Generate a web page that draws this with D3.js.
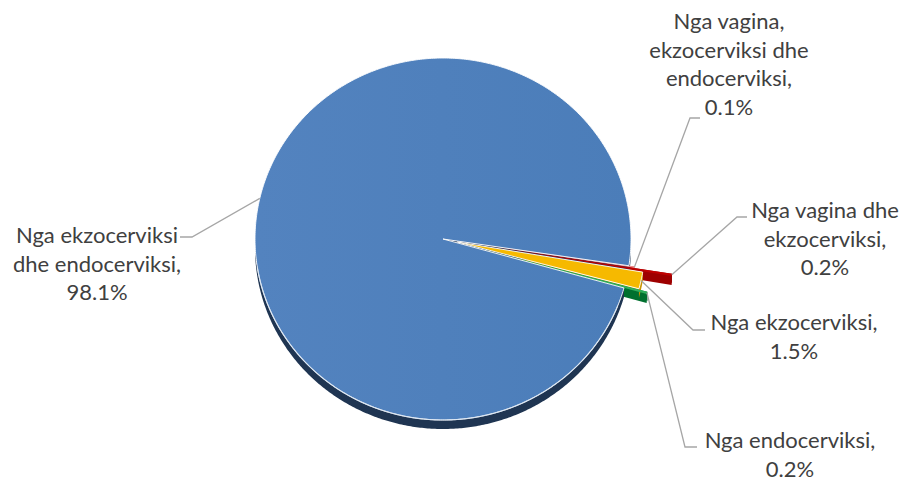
<!DOCTYPE html>
<html>
<head>
<meta charset="utf-8">
<script src="https://cdn.jsdelivr.net/npm/d3@7"></script>
<style>
  html, body { margin: 0; padding: 0; background: #ffffff; }
  svg { display: block; }
  .lbl { font-family: Lato, "Open Sans", sans-serif; font-size: 22px; fill: #404040; }
</style>
</head>
<body>
<svg id="chart" width="903" height="481"></svg>
<script>
// Categories and their shares (%), drawn clockwise from the first slice angle
const categories = [
  "Nga vagina, ekzocerviksi dhe endocerviksi",
  "Nga vagina dhe ekzocerviksi",
  "Nga ekzocerviksi",
  "Nga endocerviksi",
  "Nga ekzocerviksi dhe endocerviksi"
];
const shares = [0.1, 0.2, 1.5, 0.2, 98.1];

// Wrapped category text used in the data labels
const labelNames = [
  ["Nga vagina,", "ekzocerviksi dhe", "endocerviksi,"],
  ["Nga vagina dhe", "ekzocerviksi,"],
  ["Nga ekzocerviksi,"],
  ["Nga endocerviksi,"],
  ["Nga ekzocerviksi", "dhe endocerviksi,"]
];

// Slice styling
const topColors = ["#f28b8b", "#c00000", "#f6b900", "#2fae5c", "#4f81bd"];
const sideColors = ["#c45a5a", "#9e0000", "#c99400", "#00702f", "#1f3552"];
const explode = [0.03, 0.233, 0.078, 0.125, 0];

// Label layout: text centre x, first baseline y, leader elbow and leader end
const labelLayout = [
  { x: 729, y: 29, elbow: [690, 118], end: [700, 118] },
  { x: 825, y: 218, elbow: [737, 217], end: [747, 217] },
  { x: 794, y: 330, elbow: [693, 330], end: [705, 330] },
  { x: 790, y: 448, elbow: [685, 447], end: [697, 447] },
  { x: 97, y: 243, elbow: [192, 237], end: [180, 237] }
];
const lineGap = 28.5;
// Where the leader of the large slice touches its rim (fraction of a turn)
const bigLeaderTurn = 0.786;

// Pie geometry (tilted disc with thickness)
const cx = 443, cy = 239, rx = 188, ry = 181, depth = 9;
const firstAngle = 98.5 * Math.PI / 180;

const svg = d3.select("#chart");
const defs = svg.append("defs");
const grad = defs.append("linearGradient").attr("id", "blueTop")
  .attr("x1", "0%").attr("x2", "100%").attr("y1", "0%").attr("y2", "0%");
grad.append("stop").attr("offset", "0%").attr("stop-color", "#5383bf");
grad.append("stop").attr("offset", "100%").attr("stop-color", "#4b7db9");

const pie = d3.pie().sort(null).value(d => d)
  .startAngle(firstAngle).endAngle(firstAngle + 2 * Math.PI);
const arcs = pie(shares);

const xs = d3.scaleLinear().domain([-1, 1]).range([cx - rx, cx + rx]);
const ys = d3.scaleLinear().domain([-1, 1]).range([cy - ry, cy + ry]);
const proj = (u, v, z) => [xs(u), ys(v) + z * depth];
const line = d3.line();
const closed = pts => line(pts) + "Z";

const slices = arcs.map((a, i) => {
  const mid = (a.startAngle + a.endAngle) / 2;
  const ou = explode[i] * Math.sin(mid), ov = -explode[i] * Math.cos(mid);
  const pt = (r, ang, z) => proj(ou + r * Math.sin(ang), ov - r * Math.cos(ang), z);
  const arcPts = (a0, a1, z) => {
    const n = Math.max(2, Math.ceil((a1 - a0) / 0.01));
    return d3.range(n + 1).map(k => pt(1, a0 + (a1 - a0) * k / n, z));
  };
  return { a, i, mid, pt, arcPts };
});

const gSides = svg.append("g");
const gWalls = svg.append("g");
const gTops = svg.append("g");

// Radial side faces
slices.forEach(s => {
  [s.a.startAngle, s.a.endAngle].forEach(ang => {
    gSides.append("path")
      .attr("d", closed([s.pt(0, ang, 0), s.pt(1, ang, 0), s.pt(1, ang, 1), s.pt(0, ang, 1)]))
      .attr("fill", sideColors[s.i]);
  });
});

// Outer rim walls on the front half of the disc
slices.forEach(s => {
  const a0 = s.a.startAngle, a1 = s.a.endAngle;
  [[Math.PI / 2, 3 * Math.PI / 2], [Math.PI / 2 + 2 * Math.PI, 3 * Math.PI / 2 + 2 * Math.PI]].forEach(([f0, f1]) => {
    const b0 = Math.max(a0, f0), b1 = Math.min(a1, f1);
    if (b1 > b0) {
      const top = s.arcPts(b0, b1, 0), bot = s.arcPts(b0, b1, 1).reverse();
      gWalls.append("path").attr("d", closed(top.concat(bot)))
        .attr("fill", sideColors[s.i]);
    }
  });
});

// Top faces: thin slices first, then the wider ones with a white edge
const topOrder = [0, 1, 3, 4, 2];
topOrder.forEach(i => {
  const s = slices[i];
  const pts = [s.pt(0, 0, 0)].concat(s.arcPts(s.a.startAngle, s.a.endAngle, 0));
  const p = gTops.append("path").attr("d", closed(pts))
    .attr("fill", i === 4 ? "url(#blueTop)" : topColors[i]);
  if (shares[i] > 1) p.attr("stroke", "#ffffff").attr("stroke-width", 0.9).attr("stroke-linejoin", "round");
  if (i === 4) {
    // light bevel along the front edge of the large slice
    const b0 = Math.max(s.a.startAngle, Math.PI * 0.62), b1 = Math.PI * 1.45;
    gTops.append("path").attr("d", line(s.arcPts(b0, b1, 0)))
      .attr("fill", "none").attr("stroke", "#dce6f2").attr("stroke-width", 1.2).attr("stroke-opacity", 0.85);
  }
});

// Data labels with leader lines
const fmt = d3.format(".1f");
const gLab = svg.append("g");
slices.forEach(s => {
  const L = labelLayout[s.i];
  let start;
  if (s.i === 4) {
    const ang = 2 * Math.PI * bigLeaderTurn;
    start = proj(Math.sin(ang), -Math.cos(ang), 0);
  } else {
    start = s.pt(1, s.mid, 0);
  }
  gLab.append("path")
    .attr("d", line([start, L.elbow, L.end]))
    .attr("fill", "none").attr("stroke", "#a6a6a6").attr("stroke-width", 1.3);
  const lines = labelNames[s.i].concat([fmt(shares[s.i]) + "%"]);
  const t = gLab.append("text").attr("class", "lbl").attr("text-anchor", "middle");
  lines.forEach((ln, k) => {
    t.append("tspan").attr("x", L.x).attr("y", L.y + k * lineGap).text(ln);
  });
});
</script>
</body>
</html>
